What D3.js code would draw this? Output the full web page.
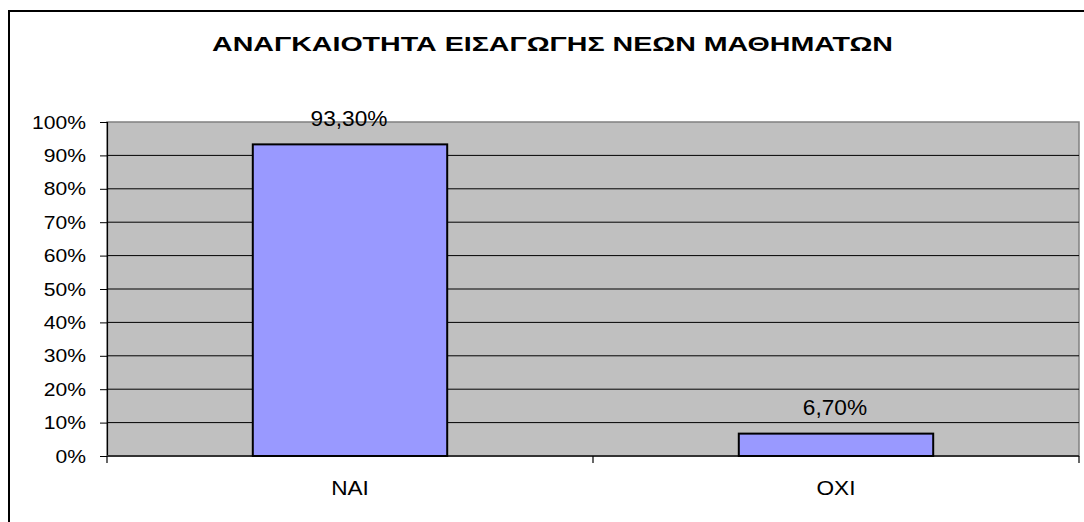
<!DOCTYPE html>
<html>
<head>
<meta charset="utf-8">
<script src="https://cdn.jsdelivr.net/npm/d3@7"></script>
<style>
  body { margin: 0; background: #fff; }
  text { font-family: Arial, "Liberation Sans", sans-serif; fill: #000; }
</style>
</head>
<body>
<div id="chart"></div>
<script>
// chart data
var categories = ["ΝΑΙ", "ΟΧΙ"];
var values = [0.933, 0.067];
var valueLabels = ["93,30%", "6,70%"];
var yTicks = [0, 0.1, 0.2, 0.3, 0.4, 0.5, 0.6, 0.7, 0.8, 0.9, 1];
var title = "ΑΝΑΓΚΑΙΟΤΗΤΑ ΕΙΣΑΓΩΓΗΣ ΝΕΩΝ ΜΑΘΗΜΑΤΩΝ";

var W = 1084, H = 522;
var plot = { left: 107, top: 122, right: 1079, bottom: 456 };

// the source chart's text is a bit wider than plain Arial
function stretch(sel, k) {
    sel.each(function () {
        var len = this.getComputedTextLength();
        d3.select(this)
            .attr("textLength", len * k)
            .attr("lengthAdjust", "spacingAndGlyphs");
    });
}

var svg = d3.select("#chart").append("svg")
    .attr("width", W)
    .attr("height", H);

// outer chart border (runs off the right and bottom edges)
svg.append("rect")
    .attr("x", 9).attr("y", 11)
    .attr("width", 1200).attr("height", 600)
    .attr("fill", "#fff")
    .attr("stroke", "#000")
    .attr("stroke-width", 2);

var x = d3.scaleBand()
    .domain(categories)
    .range([plot.left, plot.right])
    .paddingInner(0.6)
    .paddingOuter(0.3);

var xEdge = d3.scalePoint()
    .domain(d3.range(categories.length + 1))
    .range([plot.left, plot.right]);

var y = d3.scaleLinear()
    .domain([0, 1])
    .range([plot.bottom, plot.top]);

// plot background
svg.append("rect")
    .attr("x", plot.left).attr("y", plot.top)
    .attr("width", plot.right - plot.left)
    .attr("height", plot.bottom - plot.top)
    .attr("fill", "#c0c0c0")
    .attr("stroke", "#808080")
    .attr("stroke-width", 1.5);

// gridlines
svg.append("g")
    .selectAll("line")
    .data(yTicks.filter(d => d > 0 && d < 1))
    .enter().append("line")
    .attr("x1", plot.left).attr("x2", plot.right)
    .attr("y1", d => y(d)).attr("y2", d => y(d))
    .attr("stroke", "#000")
    .attr("stroke-width", 1);

// y axis
var yAxis = svg.append("g")
    .attr("transform", `translate(${plot.left},0)`)
    .call(d3.axisLeft(y).tickValues(yTicks).tickSize(7).tickPadding(14)
        .tickFormat(d => Math.round(d * 100) + "%"));
yAxis.select(".domain").attr("stroke", "#000").attr("stroke-width", 1.2);
yAxis.selectAll(".tick line").attr("stroke", "#000");
yAxis.selectAll(".tick text")
    .attr("font-size", 19)
    .attr("font-family", "Arial, 'Liberation Sans', sans-serif")
    .attr("fill", "#000")
    .call(stretch, 1.11);

// x axis line and category boundary ticks
svg.append("line")
    .attr("x1", plot.left).attr("x2", plot.right)
    .attr("y1", plot.bottom).attr("y2", plot.bottom)
    .attr("stroke", "#333")
    .attr("stroke-width", 2);
svg.append("g")
    .selectAll("line")
    .data(xEdge.domain())
    .enter().append("line")
    .attr("x1", d => xEdge(d)).attr("x2", d => xEdge(d))
    .attr("y1", plot.bottom).attr("y2", plot.bottom + 7)
    .attr("stroke", "#000")
    .attr("stroke-width", 1.2);

svg.append("g")
    .selectAll("text")
    .data(categories)
    .enter().append("text")
    .attr("x", d => x(d) + x.bandwidth() / 2)
    .attr("y", plot.bottom + 39)
    .attr("text-anchor", "middle")
    .attr("font-size", 19.5)
    .text(d => d)
    .call(stretch, 1.16);

// bars
svg.append("g")
    .selectAll("rect")
    .data(values)
    .enter().append("rect")
    .attr("x", (d, i) => x(categories[i]))
    .attr("y", d => y(d))
    .attr("width", x.bandwidth())
    .attr("height", d => plot.bottom - y(d))
    .attr("fill", "#9999ff")
    .attr("stroke", "#000")
    .attr("stroke-width", 2);

// value labels
svg.append("g")
    .selectAll("text")
    .data(values)
    .enter().append("text")
    .attr("x", (d, i) => x(categories[i]) + x.bandwidth() / 2 - 1)
    .attr("y", d => y(d) - 18.5)
    .attr("text-anchor", "middle")
    .attr("font-size", 22)
    .text((d, i) => valueLabels[i])
    .call(stretch, 1.03);

// title
svg.append("text")
    .attr("x", 552.5)
    .attr("y", 51)
    .attr("text-anchor", "middle")
    .attr("font-size", 20)
    .attr("font-weight", "bold")
    .attr("textLength", 681)
    .attr("lengthAdjust", "spacingAndGlyphs")
    .text(title);
</script>
</body>
</html>
